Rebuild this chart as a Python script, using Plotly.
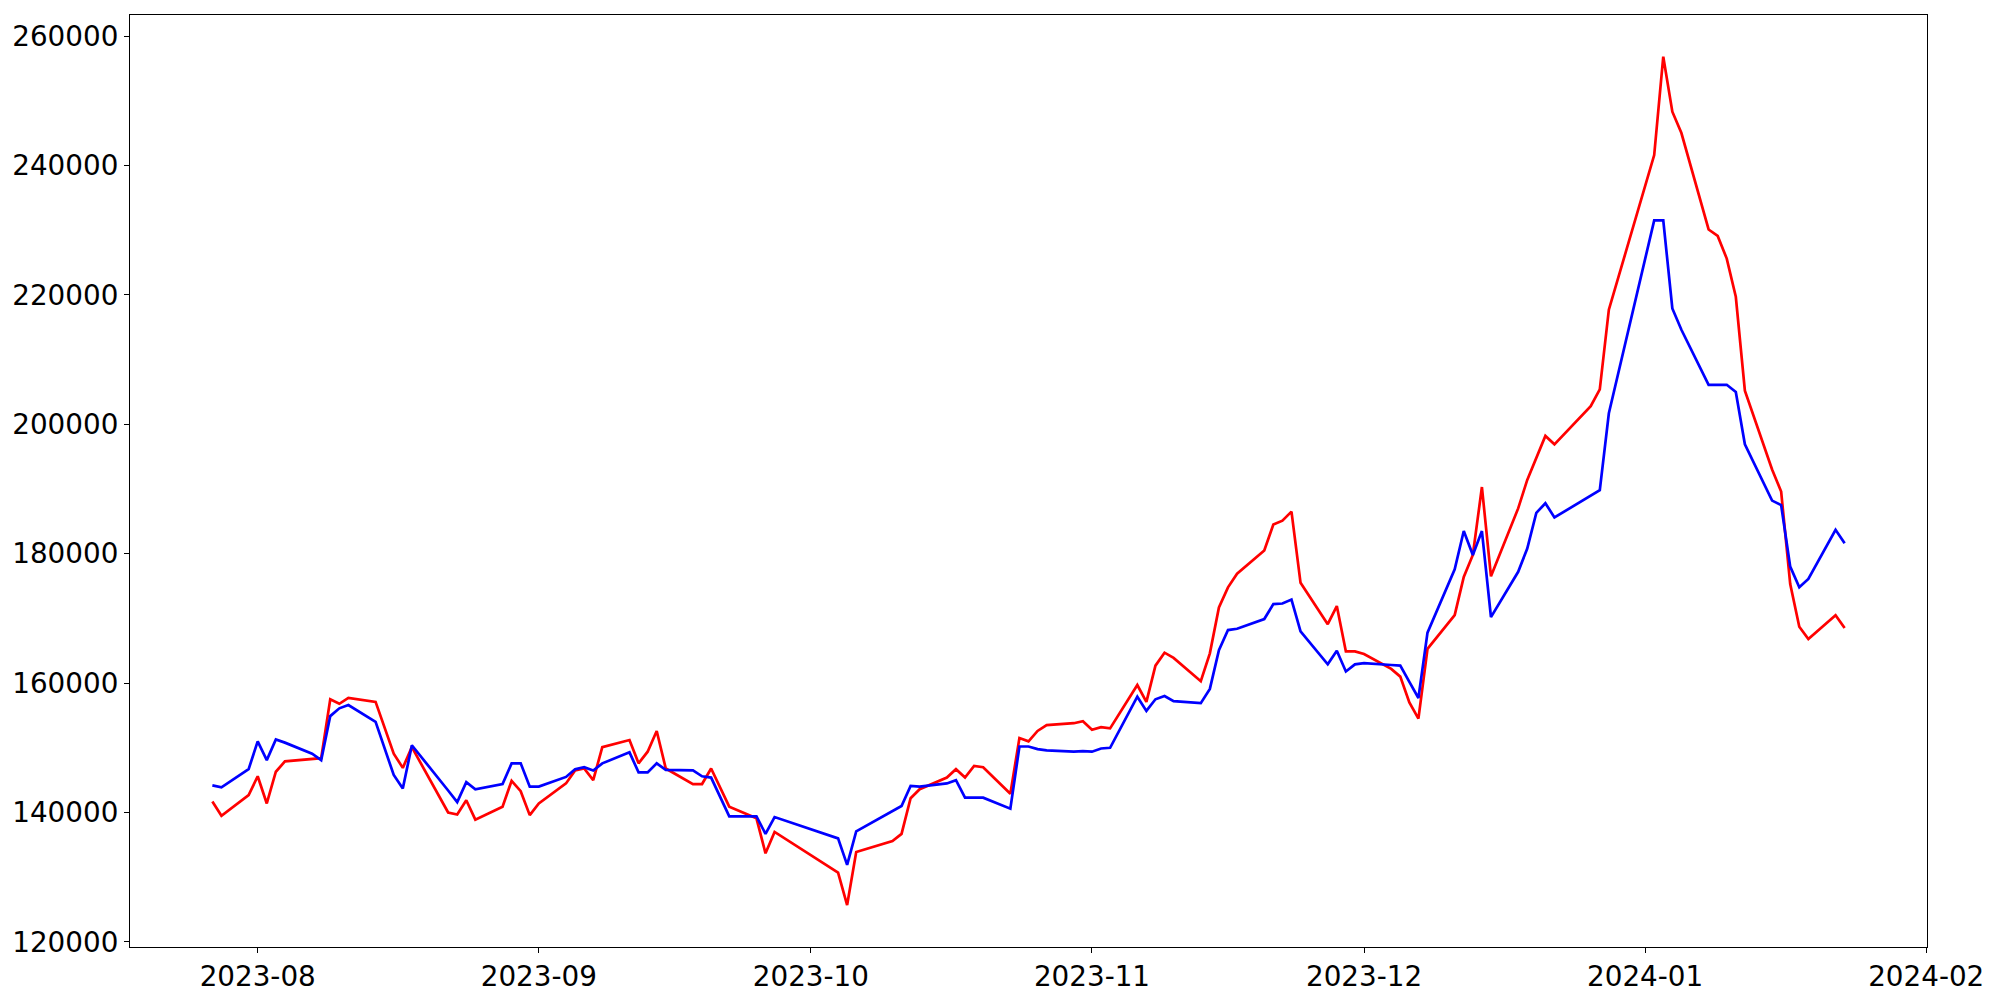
import plotly.graph_objects as go

dates = [
    "2023-07-27", "2023-07-28", "2023-07-31", "2023-08-01", "2023-08-02", "2023-08-03", "2023-08-04",
    "2023-08-07", "2023-08-08", "2023-08-09", "2023-08-10", "2023-08-11", "2023-08-14", "2023-08-16",
    "2023-08-17", "2023-08-18", "2023-08-22", "2023-08-23", "2023-08-24", "2023-08-25", "2023-08-28",
    "2023-08-29", "2023-08-30", "2023-08-31", "2023-09-01", "2023-09-04", "2023-09-05", "2023-09-06",
    "2023-09-07", "2023-09-08", "2023-09-11", "2023-09-12", "2023-09-13", "2023-09-14", "2023-09-15",
    "2023-09-18", "2023-09-19", "2023-09-20", "2023-09-22", "2023-09-25", "2023-09-26", "2023-09-27",
    "2023-10-04", "2023-10-05", "2023-10-06", "2023-10-10", "2023-10-11", "2023-10-12", "2023-10-13",
    "2023-10-16", "2023-10-17", "2023-10-18", "2023-10-19", "2023-10-20", "2023-10-23", "2023-10-24",
    "2023-10-25", "2023-10-26", "2023-10-27", "2023-10-30", "2023-10-31", "2023-11-01", "2023-11-02",
    "2023-11-03", "2023-11-06", "2023-11-07", "2023-11-08", "2023-11-09", "2023-11-10", "2023-11-13",
    "2023-11-14", "2023-11-15", "2023-11-16", "2023-11-17", "2023-11-20", "2023-11-21", "2023-11-22",
    "2023-11-23", "2023-11-24", "2023-11-27", "2023-11-28", "2023-11-29", "2023-11-30", "2023-12-01",
    "2023-12-04", "2023-12-05", "2023-12-06", "2023-12-07", "2023-12-08", "2023-12-11", "2023-12-12",
    "2023-12-13", "2023-12-14", "2023-12-15", "2023-12-18", "2023-12-19", "2023-12-20", "2023-12-21",
    "2023-12-22", "2023-12-26", "2023-12-27", "2023-12-28", "2024-01-02", "2024-01-03", "2024-01-04",
    "2024-01-05", "2024-01-08", "2024-01-09", "2024-01-10", "2024-01-11", "2024-01-12", "2024-01-15",
    "2024-01-16", "2024-01-17", "2024-01-18", "2024-01-19", "2024-01-22", "2024-01-23",
]

red_values = [
    141700, 139500, 142700, 145600, 141400, 146300, 147900,
    148200, 148400, 157500, 156800, 157700, 157100, 149100,
    146900, 150100, 140000, 139700, 141900, 138900, 140900,
    144900, 143300, 139600, 141400, 144500, 146500, 146800,
    145000, 150100, 151200, 147600, 149400, 152600, 146800,
    144400, 144400, 146800, 140900, 139100, 133700, 137000,
    130700, 125700, 133900, 135600, 136700, 142200, 143600,
    145400, 146700, 145400, 147200, 147000, 142900, 151500,
    151000, 152600, 153500, 153800, 154100, 152800, 153200,
    153000, 159700, 157100, 162700, 164700, 163900, 160300,
    164600, 171700, 174800, 176900, 180500, 184500, 185100,
    186500, 175500, 169100, 171900, 164900, 164900, 164500,
    162200, 161000, 157000, 154500, 165300, 170500, 176400,
    179800, 190300, 176500, 187000, 191400, 194800, 198200,
    196900, 202800, 205400, 217700, 241600, 256800, 248300,
    245000, 230100, 229100, 225600, 219700, 205200, 193000,
    189600, 175300, 168700, 166800, 170500, 168500,
]

blue_values = [
    144200, 143900, 146700, 151000, 148100, 151300, 150800,
    149100, 148100, 154900, 156100, 156600, 154000, 145800,
    143700, 150400, 143400, 141600, 144700, 143600, 144400,
    147600, 147600, 144000, 144000, 145500, 146700, 147000,
    146500, 147600, 149300, 146200, 146200, 147600, 146600,
    146500, 145600, 145400, 139400, 139400, 136700, 139300,
    136000, 131900, 137100, 140300, 141000, 144100, 144000,
    144500, 145000, 142300, 142300, 142300, 140600, 150200,
    150200, 149800, 149600, 149400, 149500, 149400, 149900,
    150000, 157900, 155700, 157500, 158000, 157200, 156900,
    159100, 165100, 168200, 168400, 169900, 172200, 172300,
    172900, 168000, 162900, 165000, 161800, 162900, 163100,
    162800, 162700, 160200, 157700, 167800, 177600, 183500,
    179800, 183500, 170200, 177200, 180800, 186300, 187800,
    185600, 189000, 189800, 201700, 231500, 231500, 217900,
    214600, 206100, 206100, 206100, 205000, 196900, 188200,
    187500, 178000, 174800, 176100, 183700, 181600,
]

x_tick_vals = ["2023-08-01", "2023-09-01", "2023-10-01", "2023-11-01",
               "2023-12-01", "2024-01-01", "2024-02-01"]
x_tick_text = ["2023-08", "2023-09", "2023-10", "2023-11", "2023-12", "2024-01", "2024-02"]
y_tick_vals = [120000, 140000, 160000, 180000, 200000, 220000, 240000, 260000]

fig = go.Figure()
fig.add_trace(go.Scatter(x=dates, y=red_values, mode="lines",
                         line=dict(color="#ff0000", width=2.7), showlegend=False))
fig.add_trace(go.Scatter(x=dates, y=blue_values, mode="lines",
                         line=dict(color="#0000ff", width=2.7), showlegend=False))

axis_common = dict(
    showgrid=False, zeroline=False, showline=True, mirror=True,
    linecolor="black", linewidth=1.1, ticks="outside", ticklen=5,
    tickwidth=1.1, tickcolor="black", automargin=False,
    tickfont=dict(family="DejaVu Sans", size=27.8, color="black"),
)

fig.update_layout(
    width=2000, height=1000,
    margin=dict(l=122, r=81, t=7, b=61),
    paper_bgcolor="white", plot_bgcolor="white",
    xaxis=dict(type="date", range=["2023-07-17 22:00", "2024-02-01 02:00"],
               tickvals=x_tick_vals, ticktext=x_tick_text, **axis_common),
    yaxis=dict(range=[119218, 263245], tickvals=y_tick_vals, tickformat="d",
               **axis_common),
)

fig.write_html("out.html")
